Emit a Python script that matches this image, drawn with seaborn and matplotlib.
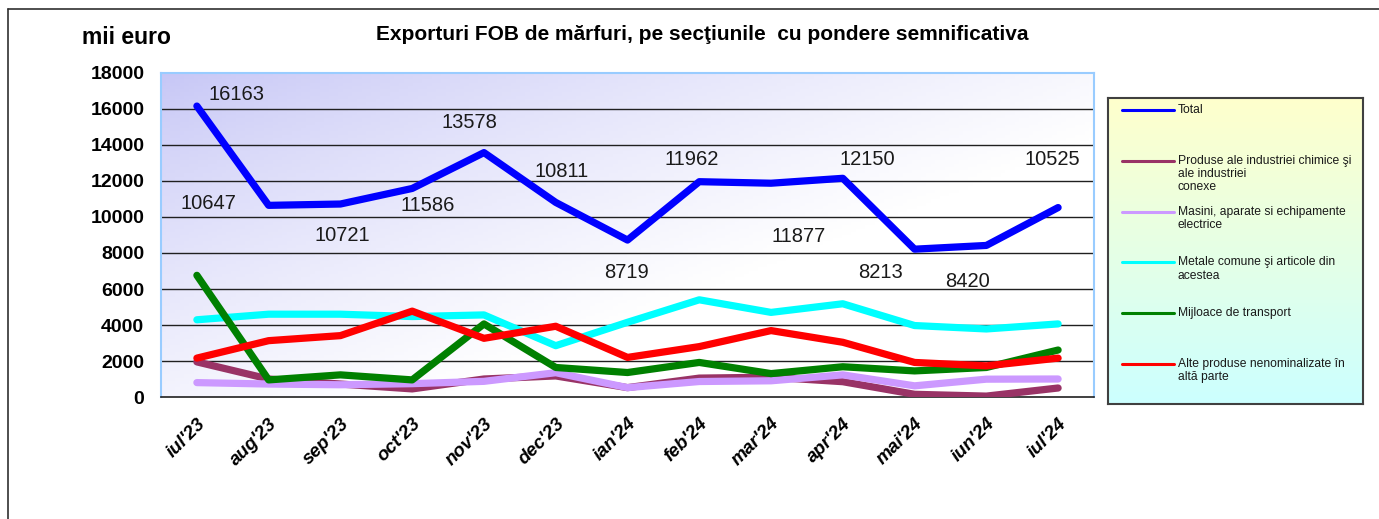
# Exporturi FOB de marfuri - line chart, iul'23 .. iul'24
import numpy as np
import pandas as pd
import matplotlib
matplotlib.use("Agg")
import matplotlib.pyplot as plt
from matplotlib.lines import Line2D
from matplotlib.colors import to_rgb
import seaborn as sns

# ─── data ───────────────────────────────────────────────────────────────
months = ["iul'23", "aug'23", "sep'23", "oct'23", "nov'23", "dec'23", "ian'24",
          "feb'24", "mar'24", "apr'24", "mai'24", "iun'24", "iul'24"]

total = [16163, 10647, 10721, 11586, 13578, 10811, 8719,
         11962, 11877, 12150, 8213, 8420, 10525]
chimice = [1950, 1000, 720, 450, 1000, 1170, 520, 1050, 1100, 850, 150, 50, 500]
masini = [800, 720, 680, 740, 870, 1350, 520, 860, 900, 1230, 620, 990, 1000]
metale = [4290, 4600, 4600, 4470, 4560, 2850, 4150, 5400, 4700, 5180, 3970, 3780, 4060]
transport = [6760, 950, 1230, 950, 4060, 1640, 1360, 1920, 1300, 1680, 1450, 1640, 2610]
alte = [2160, 3130, 3410, 4770, 3260, 3930, 2200, 2800, 3690, 3040, 1920, 1730, 2160]

series_names = [
    "Total",
    "Produse ale industriei chimice şi\nale industriei\nconexe",
    "Masini, aparate si echipamente\nelectrice",
    "Metale comune şi articole din\nacestea",
    "Mijloace de transport",
    "Alte produse nenominalizate în\naltă parte",
]
series_colors = ["#0000ff", "#993366", "#cc99ff", "#00ffff", "#008000", "#ff0000"]

# where each total label sits relative to its point (pixels, y up)
label_offsets = [(40, 12), (-60, 2), (2, -31), (15, -17), (-15, 30), (6, 31), (-1, -32),
                 (-8, 22), (28, -53), (25, 19), (-34, -23), (-19, -36), (-6, 48)]

values = [total, chimice, masini, metale, transport, alte]
df = pd.concat([
    pd.DataFrame({"x": range(len(months)), "val": v, "serie": name})
    for name, v in zip(series_names, values)
])

# ─── figure ─────────────────────────────────────────────────────────────
W, H = 1379, 519
sns.set_style("white")
plt.rcParams["font.family"] = ["Liberation Sans", "DejaVu Sans"]
plt.rcParams["text.color"] = "black"
plt.rcParams["xtick.color"] = "black"
plt.rcParams["ytick.color"] = "black"

fig = plt.figure(figsize=(W / 100, H / 100), dpi=100)
ax = fig.add_axes([161 / W, 1 - 397 / H, (1094 - 161) / W, (397 - 73) / H])

# gradient plot area (lavender top-left -> white)
gx, gy = np.meshgrid(np.linspace(0, 1, 200), np.linspace(1, 0, 100))
t = np.clip(gx * 0.85 + (1 - gy) * 0.75, 0, 1) ** 0.8
c0, c1 = np.array(to_rgb("#c6c6f6")), np.array(to_rgb("#ffffff"))
grad = c0[None, None, :] * (1 - t[..., None]) + c1[None, None, :] * t[..., None]
ax.imshow(grad, extent=[0, 1, 0, 1], transform=ax.transAxes, aspect="auto", zorder=0)

for yv in range(2000, 18000, 2000):
    ax.axhline(yv, color="#202020", lw=1.0, zorder=1)

sns.lineplot(data=df, x="x", y="val", hue="serie", hue_order=series_names,
             palette=series_colors, linewidth=5.2, legend=False, ax=ax,
             solid_capstyle="round", solid_joinstyle="round", zorder=3)

for i, (v, (dx, dy)) in enumerate(zip(total, label_offsets)):
    ax.annotate(str(v), (i, v), xytext=(dx, dy), textcoords="offset pixels",
                ha="center", va="center", fontsize=14.5, color="#1a1a1a", zorder=5)

ax.set_xlim(-0.5, len(months) - 0.5)
ax.set_ylim(0, 18000)
ax.set_yticks(range(0, 18001, 2000))
ax.set_yticklabels([str(v) for v in range(0, 18001, 2000)], fontsize=14, fontweight="bold")
ax.set_xticks(range(len(months)))
ax.set_xticklabels(months, rotation=45, ha="right", va="top", rotation_mode="anchor",
                   fontsize=13.5, fontweight="bold", fontstyle="italic")
ax.tick_params(axis="both", length=0)
ax.tick_params(axis="y", pad=12)
ax.tick_params(axis="x", pad=13)
ax.set_xlabel("")
ax.set_ylabel("")
for side in ["top", "left", "right"]:
    ax.spines[side].set_color("#99ccff")
    ax.spines[side].set_linewidth(1.5)
ax.spines["bottom"].set_color("#202020")
ax.spines["bottom"].set_linewidth(1.2)

# titles
fig.text(126 / W, 1 - 38 / H, "mii euro", ha="center", va="center",
         fontsize=16.5, fontweight="bold")
fig.text(702 / W, 1 - 35 / H,
         "Exporturi FOB de mărfuri, pe secţiunile  cu pondere semnificativa",
         ha="center", va="center", fontsize=15, fontweight="bold")

# legend box with yellow -> cyan gradient
lx0, lx1, ly0, ly1 = 1108, 1363, 98, 404
lax = fig.add_axes([lx0 / W, 1 - ly1 / H, (lx1 - lx0) / W, (ly1 - ly0) / H])
lg = np.linspace(0, 1, 100)[:, None, None]
lgrad = np.array(to_rgb("#ffffcc"))[None, None, :] * (1 - lg) + \
        np.array(to_rgb("#ccffff"))[None, None, :] * lg
lax.imshow(np.repeat(lgrad, 2, axis=1), extent=[0, lx1 - lx0, ly1 - ly0, 0], aspect="auto")
lax.set_xlim(0, lx1 - lx0)
lax.set_ylim(ly1 - ly0, 0)
lax.set_xticks([])
lax.set_yticks([])
for sp in lax.spines.values():
    sp.set_color("#404040")
    sp.set_linewidth(1.5)
for k, (name, col) in enumerate(zip(series_names, series_colors)):
    yy = 110 - ly0 + k * 50.8
    lax.plot([14, 66], [yy, yy], color=col, lw=2.2)
    lax.text(70, yy - 6, name, ha="left", va="top", fontsize=8.7,
             color="#1a1a1a", linespacing=1.15)

# outer frame (left and top edges visible)
fig.add_artist(Line2D([8 / W, 8 / W], [0, 1 - 9 / H], color="#303030", lw=1.2))
fig.add_artist(Line2D([8 / W, 1], [1 - 9 / H, 1 - 9 / H], color="#303030", lw=1.2))

fig.savefig("out.png", dpi=100)
